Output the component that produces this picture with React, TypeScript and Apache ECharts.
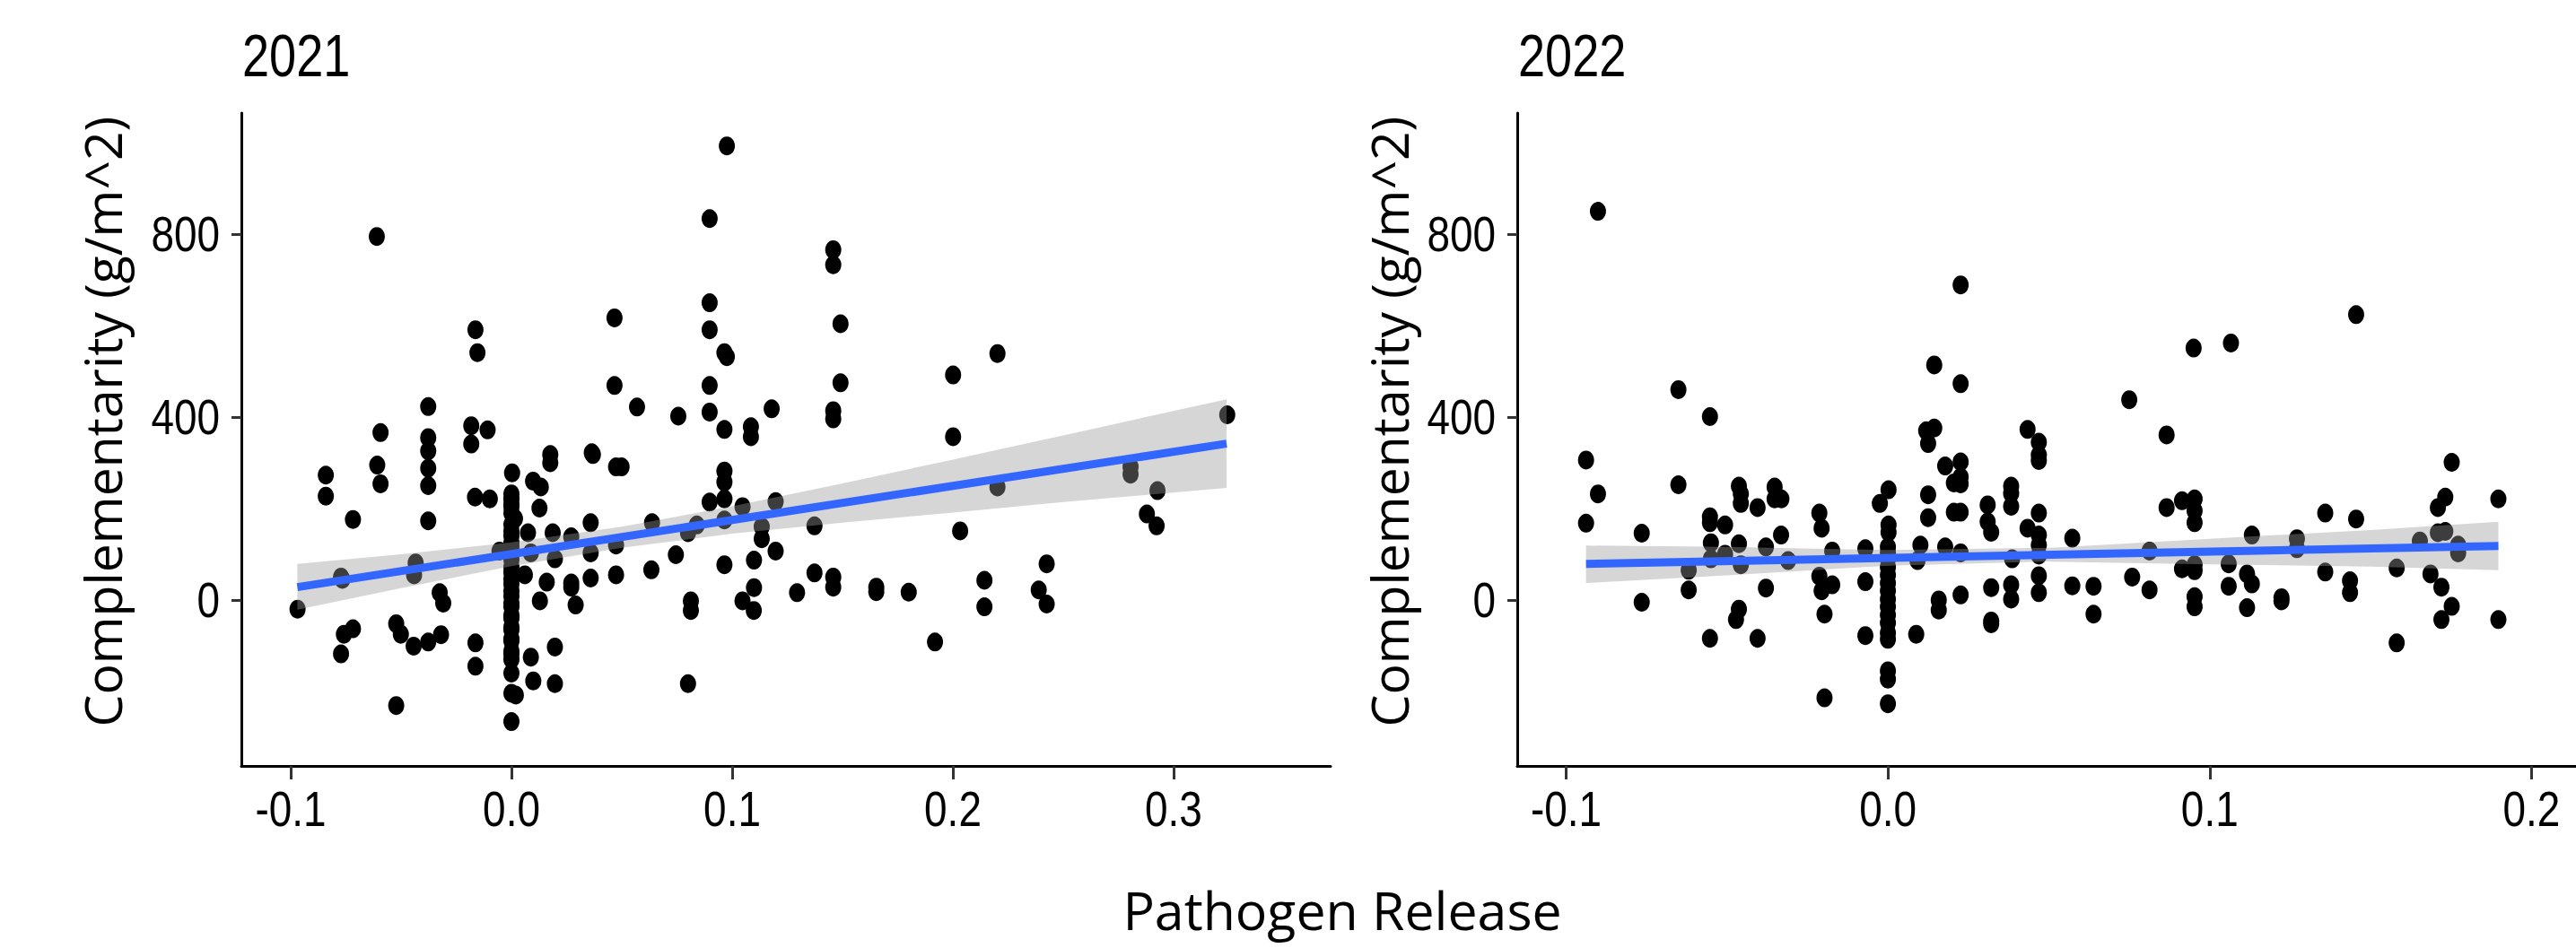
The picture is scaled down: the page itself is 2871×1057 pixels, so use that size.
import React, { useEffect, useRef } from "react";
import * as echarts from "echarts";

// ---------- data ----------
const panelTitles = ["2021", "2022"];
const xAxisTitle = "Pathogen Release";
const yAxisTitle = "Complementarity (g/m^2)";

const yTicks = [0, 400, 800];
const xTicks2021 = [-0.1, 0.0, 0.1, 0.2, 0.3];
const xTicks2022 = [-0.1, 0.0, 0.1, 0.2];

const points2021: number[][] = [
  [-0.061, 795], [-0.0163, 591], [-0.0154, 541], [-0.0377, 423], [-0.0593, 366],
  [-0.0377, 355], [-0.0377, 326], [-0.0377, 288], [-0.0377, 250], [-0.0377, 173],
  [-0.0608, 295], [-0.0593, 254], [-0.0841, 273], [-0.0841, 227], [-0.0718, 176],
  [-0.0182, 381], [-0.0108, 372], [-0.0182, 341], [-0.0165, 225], [-0.0098, 221],
  [0.0003, 278],
  [0, 232], [0, 221], [0, 210], [0, 204], [0, 190], [0.0016, 178], [0, 165], [0, 151],
  [0, 140], [0, 125], [0, 115], [0, 99], [0, 88], [0, 72], [0, 60], [0, 46], [0, 35],
  [0, 20], [0, 8], [0, -7], [0, -15], [0, -33], [0, -40], [0, -59], [0, -65], [0, -85],
  [0, -90], [0, -112], [0, -118], [0, -130], [0, -160], [0, -204], [0.002, -208], [0, -266],
  [0.0061, 55], [0.0098, 260], [0.0133, 247], [0.0127, 201], [0.0176, 318], [0.0176, 300],
  [0.0075, 147], [0.0088, 103], [0.0187, 147], [0.0197, 90], [0.0271, 138], [0.0271, 37],
  [0.0271, 28], [0.0291, -11], [0.016, 39], [0.0129, -2], [0.0359, 169], [0.0369, 318],
  [0.0364, 322], [0.0359, 103], [0.0359, 48], [0.0467, 617], [0.0467, 469], [0.0474, 291],
  [0.0474, 120], [0.0474, 55],
  [-0.0969, -20], [-0.0772, 50], [-0.0766, 45], [-0.0434, 81], [-0.0441, 55], [-0.0325, 16],
  [-0.0309, -7], [-0.0718, -63], [-0.0759, -75], [-0.0772, -118], [-0.0522, -52],
  [-0.0501, -75], [-0.0443, -101], [-0.0377, -92], [-0.0319, -76], [-0.0163, -94],
  [-0.0163, -145], [-0.0522, -231], [0.0088, -125], [0.0197, -103], [0.0099, -177],
  [0.0197, -183], [-0.0054, 107],
  [0.0976, 993], [0.0898, 834], [0.1458, 766], [0.1458, 733], [0.0898, 650], [0.0898, 591],
  [0.1491, 604], [0.0965, 541], [0.0976, 532], [0.0898, 469], [0.1491, 475], [0.0569, 422],
  [0.0756, 402], [0.0898, 411], [0.1179, 418], [0.0965, 373], [0.1085, 379], [0.1085, 357],
  [0.1458, 414], [0.1458, 396], [0.2001, 492], [0.2001, 357], [0.0499, 291], [0.0965, 282],
  [0.0965, 258], [0.0898, 214], [0.0965, 221], [0.1047, 204], [0.1197, 215], [0.0637, 169],
  [0.084, 164], [0.08, 147], [0.0965, 175], [0.1134, 160], [0.1134, 134], [0.1373, 162],
  [0.2033, 151], [0.0745, 99], [0.0634, 66], [0.0965, 77], [0.1099, 87], [0.1197, 107],
  [0.1099, 27], [0.1047, -2], [0.1098, -23], [0.0813, -2], [0.0813, -23], [0.1294, 16],
  [0.1373, 59], [0.1458, 50], [0.1458, 28], [0.1653, 28], [0.1653, 18], [0.18, 17],
  [0.1919, -92], [0.08, -183],
  [0.2202, 539], [0.3243, 405], [0.2805, 291], [0.2805, 275], [0.2927, 239], [0.2879, 188],
  [0.2923, 162], [0.2202, 247], [0.2425, 79], [0.2389, 22], [0.2425, -9], [0.2143, 43],
  [0.2143, -15],
];

const points2022: number[][] = [
  [-0.0901, 850], [-0.0651, 460], [-0.0553, 401], [-0.0938, 306], [-0.0901, 232],
  [-0.0938, 168], [-0.0651, 252], [-0.0765, 146], [-0.0765, -5], [-0.0553, 182],
  [-0.0553, 169], [-0.0506, 164], [-0.0463, 249], [-0.0457, 232], [-0.0457, 211],
  [-0.0405, 202], [-0.0352, 247], [-0.0352, 221], [-0.0331, 221], [-0.0332, 142],
  [-0.055, 125], [-0.055, 90], [-0.0506, 100], [-0.0463, 123], [-0.0457, 77],
  [-0.0379, 116], [-0.031, 86], [-0.0619, 65], [-0.0619, 22], [-0.0379, 26],
  [-0.0463, -20], [-0.0472, -43], [-0.0553, -84], [-0.0405, -84], [-0.0213, 190],
  [-0.0206, 157], [-0.0173, 107], [-0.0213, 52], [-0.0206, 20], [-0.0173, 33],
  [-0.0197, -31], [-0.0197, -214], [-0.007, 112], [-0.007, 40], [-0.007, -78],
  [0.0226, 689], [0.0144, 514], [0.0226, 473], [0.095, 551], [0.075, 438], [0.0866, 361],
  [0.0434, 373], [0.0469, 345], [0.0469, 317], [0.0469, 305], [0.0144, 376], [0.0119, 370],
  [0.0125, 342], [0.0178, 293], [0.0226, 302], [0.0226, 269], [0.0205, 256], [0.0226, 254],
  [0.0002, 241], [-0.0025, 211], [0.0125, 230], [0.0125, 180], [0.0205, 192], [0.0226, 192],
  [0.0002, 164], [0.0002, 148], [0.031, 208], [0.031, 171], [0.0321, 148], [0.0383, 249],
  [0.0383, 233], [0.0383, 205], [0.0434, 157], [0.0469, 190], [0.0469, 142], [0.0469, 120],
  [0.0469, 98], [0.0469, 53], [0.0469, 16], [0.0573, 135], [0.0573, 31], [0.0639, 30],
  [0.0639, -31], [0.0759, 50], [0.0813, 107], [0.0813, 22], [0.0866, 202], [0.0914, 217],
  [0.0953, 221], [0.0953, 195], [0.0953, 169], [0.0914, 68], [0.0953, 77], [0.0953, 64],
  [0.0953, 7], [0.0953, -15], [0.0101, 120], [0.0092, 86], [0.0178, 116], [0.0226, 103],
  [0.0386, 90], [0.0321, 27], [0.0383, 33], [0.0383, 2], [0.0321, -46], [0.0321, -52],
  [0.0158, 0], [0.0158, -22], [0.0226, 11], [0.0088, -75],
  [0, 116], [0, 104], [0, 90], [0, 72], [0, 55], [0, 37], [0, 20], [0, 2], [0, -15],
  [0, -33], [0, -50], [0, -72], [0, -86], [0, -155], [0, -173], [0, -227],
  [0.1455, 624], [0.1066, 562], [0.1752, 301], [0.1732, 225], [0.1709, 202], [0.1897, 221],
  [0.1359, 190], [0.1455, 177], [0.1131, 142], [0.1271, 134], [0.1271, 112], [0.1653, 129],
  [0.1709, 147], [0.1732, 150], [0.1772, 120], [0.1772, 103], [0.1059, 79], [0.1059, 30],
  [0.1116, 57], [0.1131, 35], [0.1116, -17], [0.1223, 5], [0.1223, -2], [0.1359, 61],
  [0.1436, 42], [0.1436, 16], [0.1581, 70], [0.1581, -94], [0.1686, 57], [0.172, 28],
  [0.1752, -14], [0.172, -43], [0.1897, -43],
];

// linear fit and confidence band
const fitX2021 = [-0.097, 0.324];
const fitY2021 = [28, 342];
const bandX2021 = [-0.097, -0.05, 0, 0.05, 0.1, 0.15, 0.2, 0.25, 0.324];
const bandLo2021 = [-21, 26, 74, 114, 145, 169, 191, 214, 245];
const bandHi2021 = [79, 100, 126, 160, 205, 255, 307, 360, 439];

const fitX2022 = [-0.0938, 0.1897];
const fitY2022 = [79, 118];
const bandX2022 = [-0.0938, -0.05, 0, 0.05, 0.1, 0.15, 0.1897];
const bandLo2022 = [37, 54, 75, 84, 78, 73, 65];
const bandHi2022 = [119, 116, 109, 114, 134, 153, 171];

// ---------- component ----------
const tickFont = "'Liberation Sans', Arial, sans-serif";
const titleFont = "'Open Sans', 'Noto Sans', sans-serif";
const SQUEEZE = 0.82; // the reference's tick labels and panel titles are horizontally condensed

export default function App() {
  const ref = useRef<HTMLDivElement>(null);
  useEffect(() => {
    if (!ref.current) return;
    const chart = echarts.init(ref.current, undefined, { renderer: "svg" });

    const yMin = -363;
    const yMax = 1065;
    const panels = [
      { left: 269, xmin: -0.12236, xmax: 0.37114, xticks: xTicks2021, pts: points2021,
        fx: fitX2021, fy: fitY2021, bx: bandX2021, lo: bandLo2021, hi: bandHi2021 },
      { left: 1691, xmin: -0.11518, xmax: 0.21382, xticks: xTicks2022, pts: points2022,
        fx: fitX2022, fy: fitY2022, bx: bandX2022, lo: bandLo2022, hi: bandHi2022 },
    ];

    const grid = panels.map((p) => ({ left: p.left, top: 126, width: 1214, height: 728, containLabel: false }));
    const xAxis = panels.map((p, i) => ({
      type: "value", gridIndex: i, min: p.xmin, max: p.xmax,
      axisLine: { show: true, onZero: false, lineStyle: { color: "#000", width: 3 } },
      axisTick: { show: true, length: 15, customValues: p.xticks, lineStyle: { color: "#333", width: 3 } },
      axisLabel: { show: false },
      splitLine: { show: false },
    }));
    const yAxis = panels.map((p, i) => ({
      type: "value", gridIndex: i, min: yMin, max: yMax,
      axisLine: { show: true, onZero: false, lineStyle: { color: "#000", width: 3 } },
      axisTick: { show: true, length: 11, customValues: yTicks, lineStyle: { color: "#333", width: 3 } },
      axisLabel: { show: false },
      splitLine: { show: false },
    }));

    const series: any[] = [];
    panels.forEach((p, i) => {
      series.push({
        type: "scatter", xAxisIndex: i, yAxisIndex: i, data: p.pts,
        symbol: "circle", symbolSize: [18, 21], itemStyle: { color: "#000", opacity: 1 }, z: 2, silent: true,
      });
      series.push({
        type: "custom", xAxisIndex: i, yAxisIndex: i, data: [[0, 0]], z: 3, silent: true, clip: true,
        renderItem: (_params: any, api: any) => {
          const pts: number[][] = [];
          for (let k = 0; k < p.bx.length; k++) pts.push(api.coord([p.bx[k], p.hi[k]]));
          for (let k = p.bx.length - 1; k >= 0; k--) pts.push(api.coord([p.bx[k], p.lo[k]]));
          return { type: "polygon", shape: { points: pts }, style: { fill: "rgba(153,153,153,0.4)" } };
        },
      });
      series.push({
        type: "line", xAxisIndex: i, yAxisIndex: i, z: 4, silent: true,
        data: p.fx.map((x, k) => [x, p.fy[k]]), symbol: "none",
        lineStyle: { color: "#3366FF", width: 9 },
      });
    });

    chart.setOption({
      animation: false,
      backgroundColor: "#ffffff",
      grid, xAxis, yAxis, series,
    });

    // tick labels, placed with the axes' own scales (condensed like the reference)
    const graphic: any[] = [];
    panels.forEach((p, i) => {
      yTicks.forEach((v) => {
        const [px, py] = chart.convertToPixel({ gridIndex: i }, [p.xmin, v]) as number[];
        graphic.push({
          type: "text", x: px - 24, y: py, scaleX: SQUEEZE, silent: true,
          style: { text: String(v), fontSize: 56, fontFamily: tickFont, fill: "#000", align: "right", verticalAlign: "middle" },
        });
      });
      p.xticks.forEach((v) => {
        const [px, py] = chart.convertToPixel({ gridIndex: i }, [v, yMin]) as number[];
        graphic.push({
          type: "text", x: px, y: py + 48, scaleX: SQUEEZE, silent: true,
          style: { text: v.toFixed(1), fontSize: 56, fontFamily: tickFont, fill: "#000", align: "center", verticalAlign: "middle" },
        });
      });
    });
    graphic.push(
      { type: "text", x: 270, y: 62, scaleX: SQUEEZE, style: { text: panelTitles[0], fontSize: 66, fontFamily: tickFont, fill: "#000", align: "left", verticalAlign: "middle" } },
      { type: "text", x: 1692, y: 62, scaleX: SQUEEZE, style: { text: panelTitles[1], fontSize: 66, fontFamily: tickFont, fill: "#000", align: "left", verticalAlign: "middle" } },
      { type: "text", x: 114, y: 470, rotation: Math.PI / 2, style: { text: yAxisTitle, fontSize: 57, fontFamily: titleFont, fill: "#000", align: "center", verticalAlign: "middle" } },
      { type: "text", x: 1548, y: 470, rotation: Math.PI / 2, style: { text: yAxisTitle, fontSize: 57, fontFamily: titleFont, fill: "#000", align: "center", verticalAlign: "middle" } },
      { type: "text", x: 1496, y: 1014, style: { text: xAxisTitle, fontSize: 59, fontFamily: titleFont, fill: "#000", align: "center", verticalAlign: "middle" } },
    );
    chart.setOption({ graphic });

    return () => chart.dispose();
  }, []);

  return (
    <div style={{ position: "fixed", left: 0, top: 0, width: 2871, height: 1057, overflow: "hidden", background: "#fff" }}>
      <div ref={ref} style={{ width: 2871, height: 1057 }} />
    </div>
  );
}
